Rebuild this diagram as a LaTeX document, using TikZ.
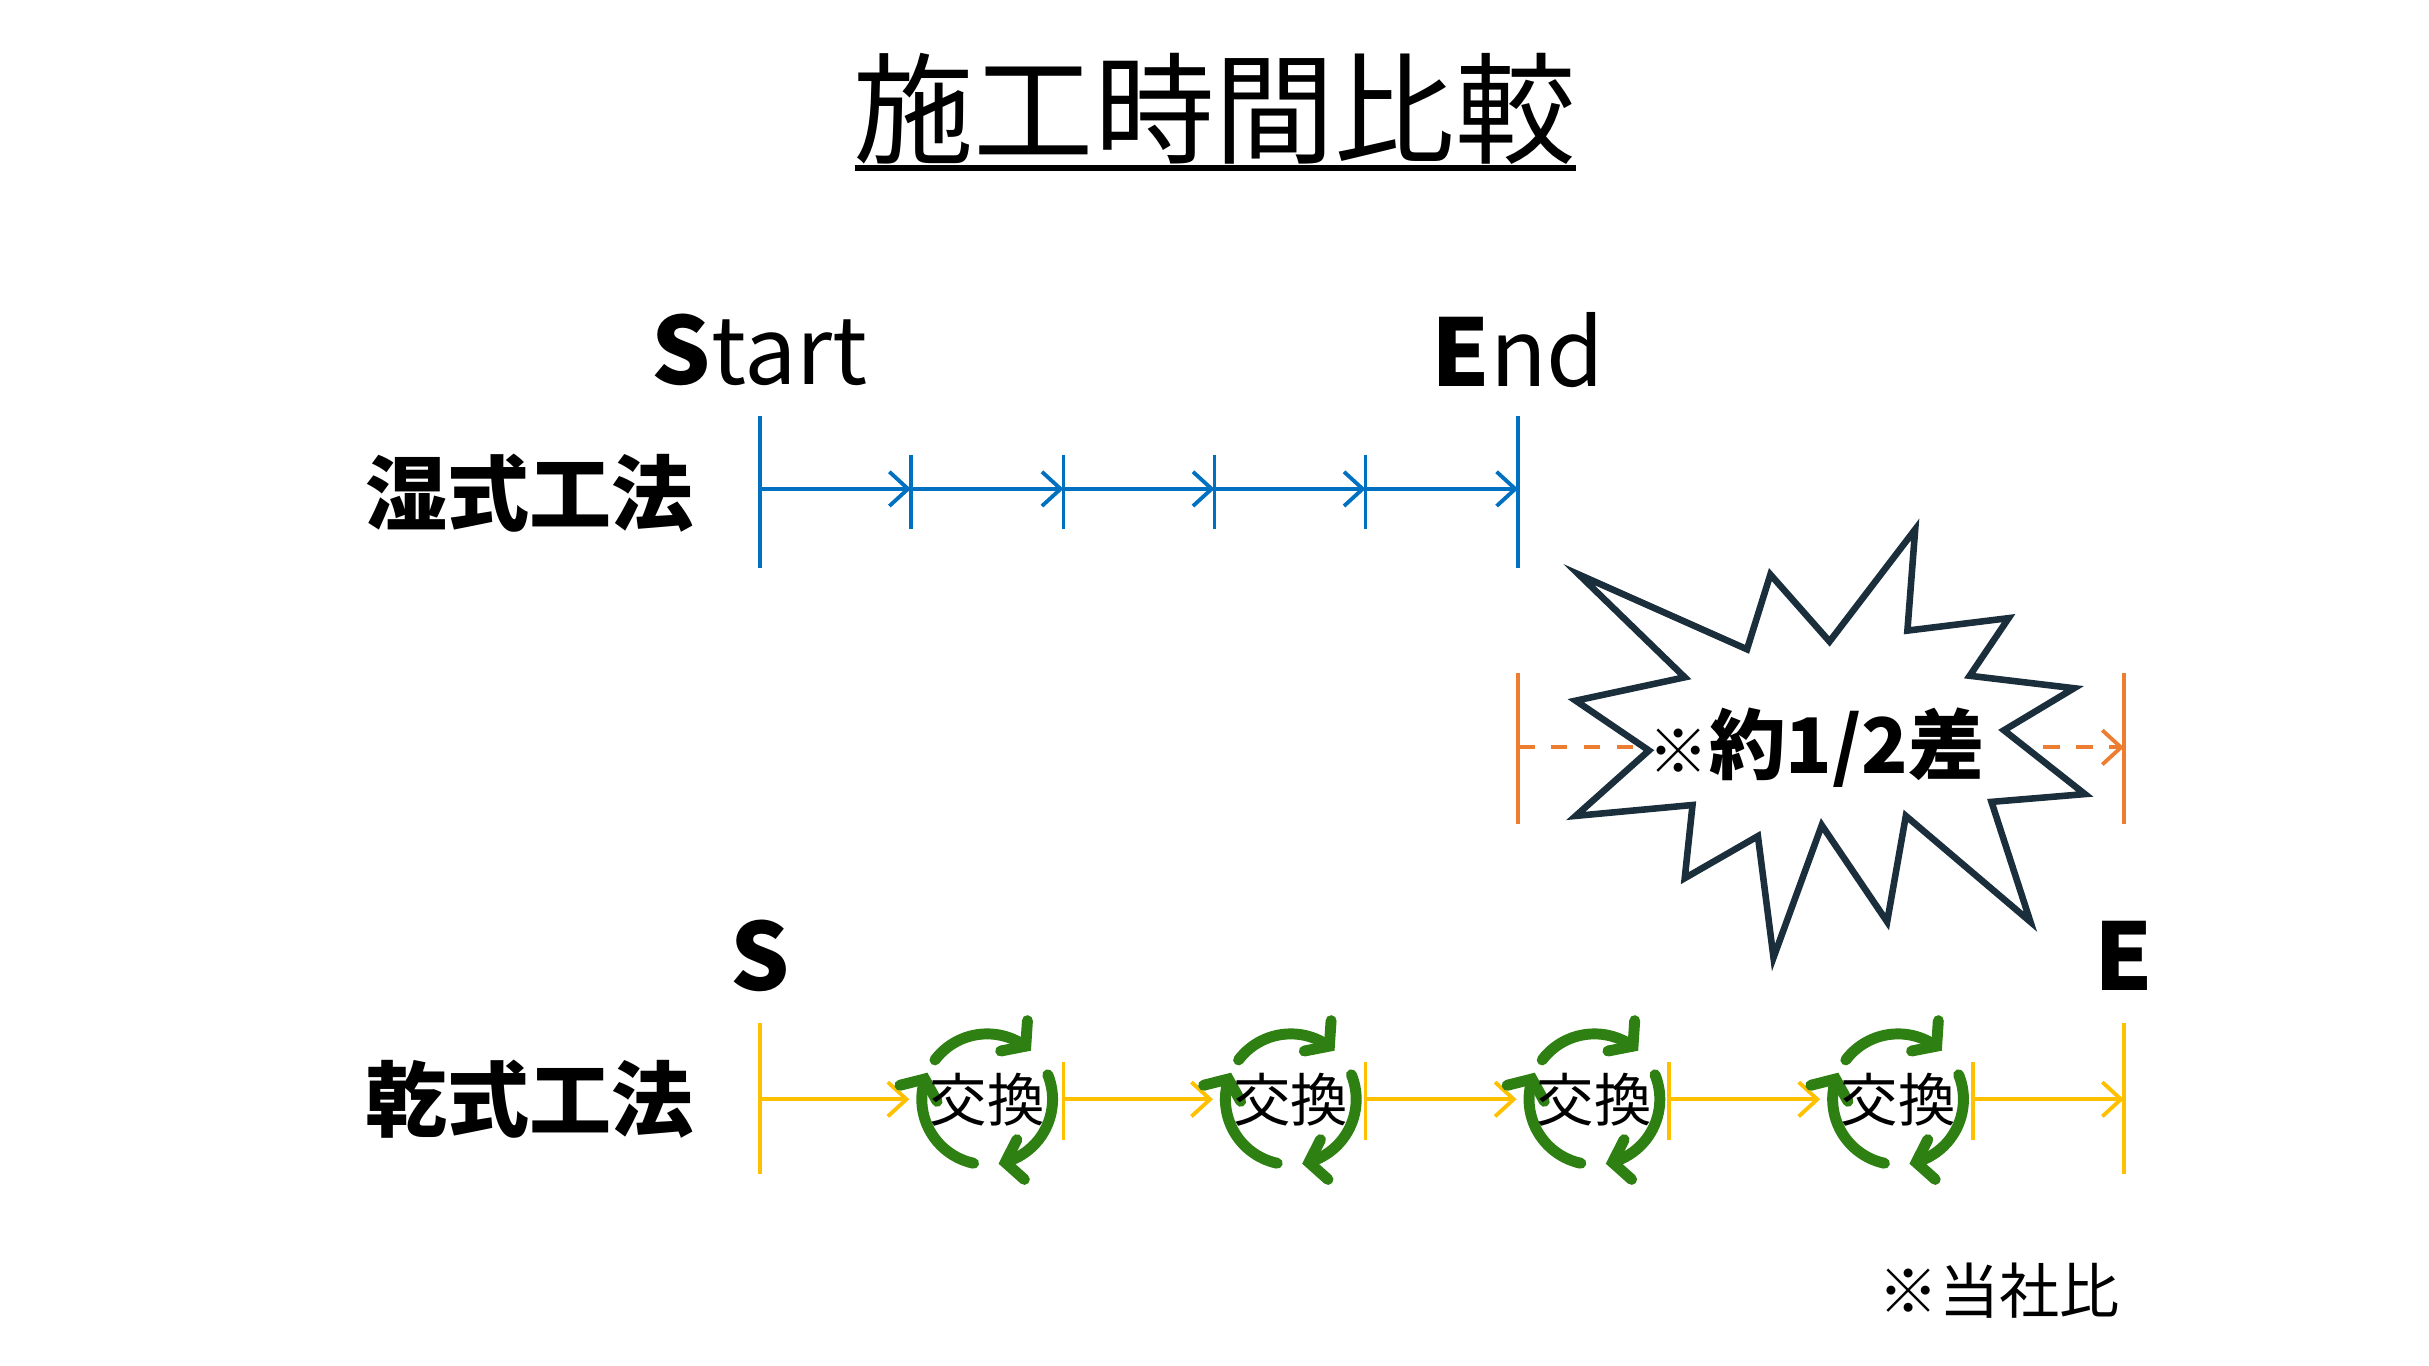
\documentclass[tikz,border=0pt]{standalone}
\usepackage{fontspec}
\setmainfont{Noto Sans CJK JP}
\usetikzlibrary{arrows.meta,bending}
\definecolor{wetblue}{HTML}{0070C0}
\definecolor{dryyellow}{HTML}{FFC000}
\definecolor{diffred}{HTML}{ED7D31}
\definecolor{cyclegreen}{HTML}{2E8012}
\definecolor{burstnavy}{HTML}{1B2E3C}
\newcommand\kokan[1]{%
  \draw[cycle] (#1) ++(143:42) arc[start angle=143,end angle=48,radius=42];
  \draw[cycle] (#1) ++(22:42) arc[start angle=22,end angle=-80,radius=42];
  \draw[cycle] (#1) ++(258:42) arc[start angle=258,end angle=156,radius=42];
  \node[font=\fontsize{10.5pt}{10.5pt}\selectfont] at (#1) {交換};}
\tikzset{
  wet/.style={wetblue, line width=0.7pt},
  dry/.style={dryyellow, line width=0.7pt},
  diff/.style={diffred, line width=0.7pt},
  cycle/.style={cyclegreen, line width=2pt, line cap=round, -{Straight Barb[length=1mm,width=2.6mm,line cap=round,flex]}},
  rowlabel/.style={font=\bfseries\fontsize{15pt}{15pt}\selectfont},
}

\begin{document}
\begin{tikzpicture}[x=0.1mm, y=0.1mm]
    \useasboundingbox (0,0) rectangle (1560,-877);

    % title
    \node (title) at (780,-70) {\fontsize{22pt}{22pt}\selectfont 施工時間比較};
    \draw[line width=1pt] (549,-108) -- (1012,-108);

    \coordinate (W0) at (488,-314);
    \coordinate (W1) at (585,-314);
    \coordinate (W2) at (683,-314);
    \coordinate (W3) at (780,-314);
    \coordinate (W4) at (877,-314);
    \coordinate (W5) at (975,-314);

    \coordinate (D0) at (488,-706);
    \coordinate (D0r) at (584,-706);
    \coordinate (D1) at (683,-706);
    \coordinate (D1r) at (779,-706);
    \coordinate (D2) at (877,-706);
    \coordinate (D2r) at (974,-706);
    \coordinate (D3) at (1072,-706);
    \coordinate (D3r) at (1169,-706);
    \coordinate (D4) at (1267,-706);
    \coordinate (D5) at (1364,-706);

    \coordinate (K1) at (634,-706);
    \coordinate (K2) at (829,-706);
    \coordinate (K3) at (1024,-706);
    \coordinate (K4) at (1219,-706);

    \coordinate (Gl) at (975,-480);
    \coordinate (Gr) at (1364,-480);

    \node[rowlabel] (wetlabel) at (340,-317) {湿式工法};
    \node[rowlabel] (drylabel) at (340,-706) {乾式工法};
    \node[font=\fontsize{17pt}{17pt}\selectfont] (start) at (488,-225) {\textbf{S}tart};
    \node[font=\fontsize{17pt}{17pt}\selectfont] (end) at (975,-225) {\textbf{E}nd};
    \node[font=\bfseries\fontsize{17pt}{17pt}\selectfont] (s) at (488,-614) {S};
    \node[font=\bfseries\fontsize{17pt}{17pt}\selectfont] (e) at (1364,-614) {E};

    % wet
    \draw[wet] (488,-267) -- (488,-365);
    \draw[wet] (975,-267) -- (975,-365);
    \foreach \x in {585,683,780,877} \draw[wet] (\x,-292) -- (\x,-340);
    \draw[wet,-{Straight Barb[length=1.2mm,width=2.2mm]}] (W0) -- (W1);
    \draw[wet,-{Straight Barb[length=1.2mm,width=2.2mm]}] (W1) -- (W2);
    \draw[wet,-{Straight Barb[length=1.2mm,width=2.2mm]}] (W2) -- (W3);
    \draw[wet,-{Straight Barb[length=1.2mm,width=2.2mm]}] (W3) -- (W4);
    \draw[wet,-{Straight Barb[length=1.2mm,width=2.2mm]}] (W4) -- (W5);

    % difference
    \draw[diff] (975,-432) -- (975,-529);
    \draw[diff] (1364,-432) -- (1364,-529);
    \draw[diff,dashed,-{Straight Barb[length=1.2mm,width=2.2mm]}] (Gl) -- (Gr);
    \draw[burstnavy, line width=1.2pt, fill=white, line join=miter]
      (1014,-369) -- (1122,-417) -- (1137,-369) -- (1175,-412) -- (1230,-340)
      -- (1225,-405) -- (1290,-397) -- (1265,-434) -- (1332,-442) -- (1287,-469)
      -- (1339,-510) -- (1279,-515) -- (1304,-592) -- (1224,-524) -- (1212,-592)
      -- (1170,-530) -- (1139,-615) -- (1129,-537) -- (1082,-564) -- (1087,-517)
      -- (1012,-524) -- (1059,-482) -- (1012,-450) -- (1082,-435) -- cycle;
    \node (diffnote) at (1167,-480) {\fontsize{11pt}{11pt}\selectfont ※\fontsize{14pt}{14pt}\selectfont\textbf{約1/2差}};

    % dry
    \draw[dry] (488,-657) -- (488,-754);
    \draw[dry] (1364,-657) -- (1364,-754);
    \foreach \x in {683,877,1072,1267} \draw[dry] (\x,-682) -- (\x,-732);
    \draw[dry,-{Straight Barb[length=1.2mm,width=2.2mm]}] (D0) -- (D0r);
    \draw[dry,-{Straight Barb[length=1.2mm,width=2.2mm]}] (D1) -- (D1r);
    \draw[dry,-{Straight Barb[length=1.2mm,width=2.2mm]}] (D2) -- (D2r);
    \draw[dry,-{Straight Barb[length=1.2mm,width=2.2mm]}] (D3) -- (D3r);
    \draw[dry,-{Straight Barb[length=1.2mm,width=2.2mm]}] (D4) -- (D5);

    \kokan{K1}
    \kokan{K2}
    \kokan{K3}
    \kokan{K4}

    \node (note) at (1284,-829) {\fontsize{11pt}{11pt}\selectfont ※当社比};
  \end{tikzpicture}
\end{document}
